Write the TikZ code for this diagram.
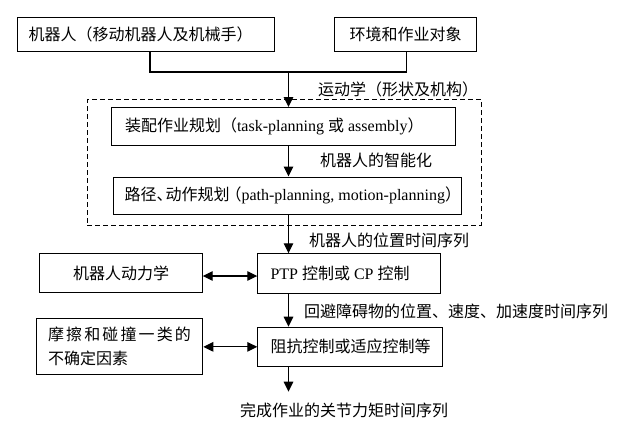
\documentclass[tikz,border=0pt]{standalone}
\usepackage{fontspec}
\setmainfont{Liberation Serif}
\newfontfamily\cjk{Noto Sans CJK SC}
\usetikzlibrary{arrows.meta}
\newcommand{\zh}[1]{{\cjk #1}}
\newcommand{\lft}[2]{\makebox[#1][l]{#2}}
\begin{document}
\begin{tikzpicture}[x=1pt,y=-1pt,
  font=\fontsize{16}{18}\selectfont,
  box/.style={draw, line width=1pt, inner sep=0pt, anchor=north west},
  dbox/.style={draw, line width=1pt, dash pattern=on 5pt off 3pt, inner sep=0pt, anchor=north west},
  conn/.style={line width=1.2pt},
  arr/.style={line width=1.2pt, -{Triangle[length=10pt,width=9.5pt]}},
  darr/.style={line width=1.2pt, {Triangle[length=10pt,width=9.5pt]}-{Triangle[length=10pt,width=9.5pt]}},
  lbl/.style={anchor=west, inner sep=0pt}]
\fill[white] (0,0) rectangle (618,431);
\useasboundingbox (0,0) rectangle (618,431);

% boxes
\node[box, minimum width=257.5pt, minimum height=33.4pt, inner xsep=11.5pt] (b1) at (16.5,17.3)
  {\lft{234.5pt}{\zh{机器人（移动机器人及机械手）}}};
\node[box, minimum width=142pt, minimum height=33.4pt] (b2) at (334,17.3) {\zh{环境和作业对象}};
\node[dbox, minimum width=394pt, minimum height=125.5pt] (db) at (86.5,99) {};
\node[box, minimum width=344pt, minimum height=38pt, inner xsep=13.5pt] (b3) at (111,107)
  {\lft{317pt}{\zh{装配作业规划（}task-planning \zh{或} assembly\zh{）}}};
\node[box, minimum width=347.5pt, minimum height=37.5pt, inner xsep=11pt] (b4) at (113,176.5)
  {\lft{325.5pt}{\zh{路径\makebox[9pt][l]{、}动作规划}\makebox[12pt][r]{\zh{（}}path-planning, motion-planning\zh{）}}};
\node[box, minimum width=162.4pt, minimum height=39.6pt] (b5) at (39.3,252.7) {\zh{机器人动力学}};
\node[box, minimum width=182.7pt, minimum height=39.4pt, inner xsep=12.7pt] (b6) at (257.3,253.3)
  {\lft{157.3pt}{PTP \zh{控制或} CP \zh{控制}}};
\node[box, minimum width=166.6pt, minimum height=55.7pt, inner xsep=11pt,
      font=\fontsize{16}{23.7}\selectfont, align=left] (b7) at (35.7,318.3)
  {\makebox[143pt][s]{\zh{摩\hfill 擦\hfill 和\hfill 碰\hfill 撞\hfill 一\hfill 类\hfill 的}}\\
   \lft{143pt}{\zh{不确定因素}}};
\node[box, minimum width=185pt, minimum height=39.3pt, inner xsep=12.7pt] (b8) at (257.3,326.7)
  {\lft{159.6pt}{\zh{阻抗控制或适应控制等}}};

% labels
\node[lbl] (l1) at (318,89) {\zh{运动学（形状及机构）}};
\node[lbl] (l2) at (320,160) {\zh{机器人的智能化}};
\node[lbl] (l3) at (309,240) {\zh{机器人的位置时间序列}};
\node[lbl] (l4) at (304,311.7) {\makebox[303pt][s]{\zh{回\hfill 避\hfill 障\hfill 碍\hfill 物\hfill 的\hfill 位\hfill 置\hfill 、\hfill 速\hfill 度\hfill 、\hfill 加\hfill 速\hfill 度\hfill 时\hfill 间\hfill 序\hfill 列}}};
\node[lbl] (fin) at (240,410) {\makebox[208pt][s]{\zh{完\hfill 成\hfill 作\hfill 业\hfill 的\hfill 关\hfill 节\hfill 力\hfill 矩\hfill 时\hfill 间\hfill 序\hfill 列}}};

% connectors
\coordinate (j1) at (150,72);
\coordinate (j2) at (406.7,72);
\coordinate (j0) at (288.5,72);
\coordinate (endp) at (288.5,391.7);
\draw[conn] (b1.south -| j1) -- (j1) -- (j2) -- (b2.south -| j2);
\draw[arr] (j0) -- (j0 |- b3.north);
\draw[arr] (b3.south -| j0) -- (b4.north -| j0);
\draw[arr] (b4.south -| j0) -- (b6.north -| j0);
\draw[darr] ([yshift=-3pt]b5.east) -- ([yshift=-3pt]b5.east -| b6.west);
\draw[arr] (b6.south -| j0) -- (b8.north -| j0);
\draw[darr] (b7.east |- b8.west) -- (b8.west);
\draw[arr] (b8.south -| j0) -- (endp);
\end{tikzpicture}
\end{document}
